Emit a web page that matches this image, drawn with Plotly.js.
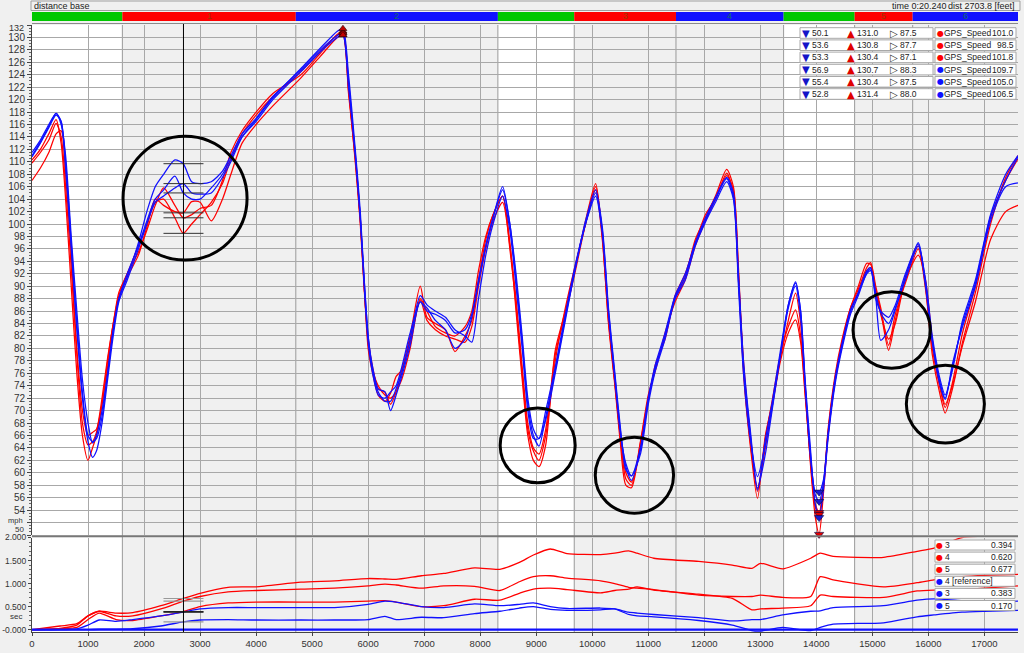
<!DOCTYPE html>
<html><head><meta charset="utf-8">
<script src="https://cdn.plot.ly/plotly-3.0.1.min.js"></script>
<style>html,body{margin:0;padding:0;background:#f0f0f0;overflow:hidden}#chart{width:1024px;height:653px}</style>
</head><body><div id="chart"></div>
<script>
// ---------------- DATA ----------------
const channelName = 'GPS_Speed';
const cursorDist = 2703.8;
const cursorTime = '0:20.240';
const xMax = 17600;

const dist = [0,150,300,430,520,600,700,800,900,1000,1080,1150,1250,1350,1450,1550,1700,1900,2050,2200,2350,2550,2700,2850,3000,3200,3400,3550,3750,4000,4300,4800,5150,5450,5550,5650,5770,5860,5930,6000,6080,6180,6300,6400,6500,6600,6750,6930,7050,7200,7380,7550,7730,7850,7970,8100,8230,8400,8530,8640,8750,8850,8950,9050,9170,9340,9520,9700,9880,10060,10180,10290,10410,10500,10600,10700,10860,11000,11130,11300,11480,11660,11840,12020,12200,12400,12520,12610,12700,12820,12950,13090,13210,13360,13500,13630,13720,13800,13890,13980,14050,14130,14210,14340,14460,14610,14750,14900,14970,15060,15150,15290,15410,15590,15820,15950,16070,16210,16300,16430,16610,16840,17110,17380,17600];

const speedRed3 = [110.3,112,114.5,116.8,113,104,90,76,66,62, 64,66,71,78,84,88.5,92,95.5,99,103, 105.8,103,101,101.5,102.5,103,107,111.5,115,118, 121,124,127.5,130.5,131,122,110,100.5,90,81, 76.5,74,72.5,72,73,76.5,82,90,85,84, 83,79.5,82,84.5,91,97.5,101.5,104.5,97,86, 75,66,62,61,64.5,79.7,86,93,100.5,106.5, 98,84,73.5,65,58,57.6,64.8,72,77,82, 88,91.5,97.5,101,104.5,108.8,106,93,76,64.5, 55.9,66,71,78.5,84.5,88.9,84,74,62,53, 50.1,57,66.5,75.5,81,86.5,90,93.7,93.5,89.5, 86,79.7,84.5,91.5,96.5,90,79,72.5,69.6,73.5, 81,89,100,107.5,111];
const speedRed4 = [109.8,111.5,113.5,116.2,114,106,93,79,68,64.5, 65,66.5,72,78.5,84,89,92,96.5,100,103.5, 104,101,98.5,100,101.5,103.5,106.5,110.5,114.5,117.5, 120.5,124.5,127.8,130.4,130.8,121,110.5,100,89.5,81.5, 77,73.5,73,71,73,75,80,88,86,83.5, 82.5,82,83.5,86,92.5,98,101.5,104.5,96,87, 76,67,63.5,62,66,78,86.5,93.5,100,106, 98.5,85,74,66,60,58.5,64,71.5,77.5,81.5, 88.5,92,97,101.5,104,108.2,105,91,78,66, 57,65.5,71.5,79,83.5,86.2,82,73,62.5,55, 53.6,58,67,76,81.5,86.5,89.5,93,93.8,90, 86.5,80.5,85.5,90.5,96,89.5,80,73.5,70.5,74.5, 82.5,90,101,107,110.5];
const speedRed5 = [107,109,111.5,114.5,115,108,95,80,70,66, 66.5,67,71,77,83.5,88,91.5,95,99.5,104, 103,102,101.8,103.6,103.5,100.5,104,108,113,116, 119,123.5,127,130,130.4,121.5,111,101,90,80, 76,72.5,71.5,72.8,75.5,76.5,81,87.8,84.5,83, 82,81.5,81,83.5,90,96,100.5,103.5,96.5,88, 77,68,64,63,67,79,85.5,92.5,100,105.5, 97.5,84.5,74,66,59,58,65,72.5,76.5,82.5, 87.5,91,96.5,100.5,104,107.8,105.5,92,77,65, 57.5,64,70.5,78,82.5,84.6,81,72.5,63,54.5, 53.3,58,66,75,80.5,86,89,92.5,93,89, 85.5,81.5,84,91,95,91,81.5,74,71,74, 80.5,87.5,97.5,102,103];
const speedBlue4 = [111,113.2,115.7,117.8,116.5,110,97,84,73,66, 65,65.5,69,76,83,88,91.5,97,102,106, 108,110.3,109.7,106.8,106.5,106.8,108.5,111,114.5,117, 120.5,124.8,128,130.3,130.7,123,111,101,90,81, 76,72.5,72,73,74,77,82.5,87.5,86,85.5, 84.5,82.5,83,85.5,91,96.5,101,105.5,100,91, 81,71,66,64.3,69,76.5,85,93,100,105, 99,86,75,67,61,58.8,63.7,71.7,77,82, 88.3,91.5,96.9,100.6,104,107.3,104.4,91,77,66.4, 57.2,65.3,71.2,79.7,87,90.7,86,74.4,63.7,57, 56.9,59,66.4,75.4,80.8,86.2,88.9,92,92.5,88.3, 81.3,83,86.2,91.5,97,90.5,81.3,74.4,72,77, 84,90.5,101.2,107,110.8];
const speedBlue3 = [111.5,113.5,116,117.8,116,111,98,86,75,68, 64.8,66,70,76,83,88,92,96.5,100.5,104, 105.5,107.7,105,104,104,105.8,108,110.5,114,116.5, 120,124.5,127.7,130,130.4,122,111.5,101,91,82, 76.5,73,71.5,71.5,73.5,76,81.5,88.5,87,86, 85,83,82,81,88,95,100,104.5,99,90, 80,70,65.5,65.5,70,77,85.5,93.5,100,104.5, 98.5,85.5,74.5,66.5,61.5,59.5,63,71,76.5,81.5, 88,91,96.5,100.3,103.5,106.8,104,90,76,65.5, 59.4,64.5,70.5,79,86.5,90,85,74,63,56.5, 55.4,58.5,66,75,80.5,86,89,92.5,93,89, 85.7,84,86.5,91,96.5,91,82,75,72.5,76.5, 84.5,91,101.5,108,111];
const speedBlue5 = [110.8,113,115.5,117.5,116.5,109,96,83,72,65, 62.5,63.5,68,75,82,87.5,91,96,100,103.5, 104.5,105.8,106.5,105,104.8,105,107.5,110,114,116.8, 120.3,125,128.3,131,131.4,124,112,102,91,82, 77,73.5,73,70,72.5,75.5,80.5,87.5,86.5,84.5, 83,80,81.5,85,90.5,96.5,101,106,100,92, 82,72,67,65.5,68.5,76,84.5,93,100.5,105.5, 99.5,86.5,75.5,67.5,60.5,59.5,64,72,77.5,82.5, 88.5,92,97,101,104.3,107.5,105,92,78,67, 57.5,63,70,79,87,90.5,86,75,64.5,55, 52.8,57.5,65.5,74.5,80,85.5,88.5,92.2,92.8,88, 86,85,87,92,96.8,90,81,74,71.8,77.5, 83.5,90,100.5,106,106.6];

// time delta (sec) vs reference lap 4
const deltaDist = [0,500,800,1000,1200,1500,1800,2300,2700,3000,3500,4000,4800,5400,6000,6300,6500,6950,7350,7900,8350,8700,8950,9250,9550,10150,10400,10650,10800,11100,11900,12500,12850,13000,13400,13900,14070,14300,15200,15800,16100,16600,17000,17600];
const deltaRed3 = [0,0.02,0.05,0.22,0.36,0.22,0.20,0.30,0.394,0.50, 0.58,0.60,0.60,0.60,0.62,0.63,0.60,0.50,0.52,0.66, 0.64,0.79,0.88,0.90,0.87,0.80,0.85,0.88,0.93,0.86, 0.77,0.68,0.43,0.45,0.47,0.52,0.75,0.72,0.70,0.84, 0.86,0.87,0.90,0.95];
const deltaRed4 = [0,0.03,0.10,0.30,0.40,0.30,0.30,0.45,0.62,0.72, 0.82,0.85,0.88,0.90,0.95,0.99,0.97,0.90,0.95,0.94, 0.85,1.04,1.15,1.17,1.12,1.06,1.00,0.92,0.90,0.87, 0.75,0.72,0.72,0.75,0.70,0.72,1.15,1.08,0.93,1.02, 1.08,1.15,1.18,1.20];
const deltaRed5 = [0,0.08,0.13,0.30,0.40,0.36,0.37,0.52,0.677,0.79, 0.92,0.93,1.03,1.06,1.11,1.10,1.09,1.17,1.22,1.34, 1.31,1.46,1.62,1.75,1.65,1.63,1.66,1.71,1.66,1.55, 1.48,1.40,1.33,1.44,1.32,1.55,1.66,1.59,1.57,1.70, 1.77,2.0,2.03,2.05];
const deltaBlue4 = [0,0,0,0,0,0,0,0,0,0, 0,0,0,0,0,0,0,0,0,0, 0,0,0,0,0,0,0,0,0,0, 0,0,0,0,0,0,0,0,0,0, 0,0,0,0];
const deltaBlue3 = [0,0,0.02,0.10,0.21,0.18,0.22,0.30,0.383,0.45, 0.48,0.48,0.48,0.48,0.55,0.62,0.60,0.50,0.48,0.56, 0.52,0.55,0.58,0.50,0.46,0.47,0.45,0.38,0.36,0.33, 0.26,0.19,0.22,0.22,0.32,0.40,0.41,0.48,0.52,0.64, 0.67,0.63,0.60,0.62];
const deltaBlue5 = [0,0,0,0,0.01,0.01,0.02,0.08,0.17,0.21, 0.22,0.21,0.21,0.21,0.22,0.29,0.22,0.27,0.26,0.35, 0.40,0.47,0.50,0.44,0.42,0.43,0.45,0.33,0.30,0.28, 0.20,0.10,-0.02,-0.03,0.05,-0.02,0.05,0.12,0.15,0.28, 0.32,0.38,0.40,0.42];

// legend tables
const lapNames   = ['3','4','5','4','3','5'];
const lapIsRef   = [false,false,false,true,false,false];
const legendMin  = ['50.1','53.6','53.3','56.9','55.4','52.8'];
const legendMax  = ['131.0','130.8','130.4','130.7','130.4','131.4'];
const legendAvg  = ['87.5','87.7','87.1','88.3','87.5','88.0'];
const cursorSpeed = [101.0,98.5,101.8,109.7,105.0,106.5];
const cursorDelta = [0.394,0.620,0.677,0,0.383,0.170];

// sectors
const segBounds = [0,1613,4709,8316,9679,11495,13416,14684,15720,17600];
const segKinds  = ['g','r','b','g','r','b','g','r','b'];
const segNames  = ['','1','2','','3','4','','5','6'];

// ticks
const xTicks = [0,1000,2000,3000,4000,5000,6000,7000,8000,9000,10000,11000,12000,13000,14000,15000,16000,17000];
const yTicks = [50,52,54,56,58,60,62,64,66,68,70,72,74,76,78,80,82,84,86,88,90,92,94,96,98,100,102,104,106,108,110,112,114,116,118,120,122,124,126,128,130,132];
const yTickText = ['','','54','56','58','60','62','64','66','68','70','72','74','76','78','80','82','84','86','88','90','92','94','96','98','100','102','104','106','108','110','112','114','116','118','120','122','124','126','128','130',''];
const y2Ticks = [0,0.5,1,1.5,2];
const y2TickText = ['-0.000','0.500','1.000','1.500','2.000'];

// ---------------- LAYOUT HELPERS ----------------
const L=32, R=1018, T=25, B=632;
const px = x => (x-L)/(R-L);
const py = y => (B-y)/(B-T);
const dx = v => v/xMax;
const RED='#ff0000', BLUE='#1010ff';
const lapColors = [RED,RED,RED,BLUE,BLUE,BLUE];
const speeds = [speedRed3,speedRed4,speedRed5,speedBlue4,speedBlue3,speedBlue5];
const deltas = [deltaRed3,deltaRed4,deltaRed5,deltaBlue4,deltaBlue3,deltaBlue5];
const FONT = 'Liberation Sans, Arial, sans-serif';
const SYM = 'DejaVu Sans, sans-serif';

const traces = [];
for (let i=0;i<6;i++){
  traces.push({x:dist, y:speeds[i], xaxis:'x', yaxis:'y', mode:'lines', type:'scatter',
    line:{color:lapColors[i], width:1.25, shape:'spline', smoothing:0.7}, hoverinfo:'skip'});
}
for (let i=0;i<6;i++){
  const s = speeds[i];
  let iMin=0,iMax=0;
  s.forEach((v,k)=>{ if(v<s[iMin]) iMin=k; if(v>s[iMax]) iMax=k; });
  traces.push({x:[dist[iMin]], y:[s[iMin]], xaxis:'x', yaxis:'y', mode:'markers', type:'scatter',
    marker:{symbol:'triangle-down', size:8, color: i<3 ? '#e00000' : '#1a1ad0', line:{color:'#000040', width:0.6}}, cliponaxis:false, hoverinfo:'skip'});
  traces.push({x:[dist[iMax]], y:[s[iMax]], xaxis:'x', yaxis:'y', mode:'markers', type:'scatter',
    marker:{symbol:'triangle-up', size:7, color:'#c00000', line:{color:'#200000', width:0.6}}, cliponaxis:false, hoverinfo:'skip'});
}
for (let i=0;i<6;i++){
  traces.push({x:[cursorDist-357, cursorDist+357], y:[cursorSpeed[i],cursorSpeed[i]], xaxis:'x', yaxis:'y',
    mode:'lines', type:'scatter', line:{color:'#333', width:1}, hoverinfo:'skip'});
}
for (let i=0;i<6;i++){
  traces.push({x:deltaDist, y:deltas[i], xaxis:'x2', yaxis:'y2', mode:'lines', type:'scatter',
    line:{color:lapColors[i], width: lapIsRef[i] ? 2.2 : 1.3, shape:'spline', smoothing:0.6}, hoverinfo:'skip'});
}
for (let i=0;i<6;i++){
  if (lapIsRef[i]) continue;
  traces.push({x:[cursorDist-357, cursorDist+357], y:[cursorDelta[i],cursorDelta[i]], xaxis:'x2', yaxis:'y2',
    mode:'lines', type:'scatter', line:{color:(i===0||i===4)?'#222':'#999', width:1.2}, hoverinfo:'skip'});
}

const shapes = [];
const annotations = [];
const segColor = {g:'#00c800', r:'#ff0000', b:'#1010ff'};
const segText  = {r:'#9a3a00', b:'#106a6a'};
const SMALL = 8.5;

shapes.push({type:'rect', xref:'paper', yref:'paper', x0:px(31), x1:px(1020), y0:py(10.5), y1:py(1), fillcolor:'#f0f0f0', line:{color:'#a0a0a0', width:1}});
annotations.push({text:'distance base', xref:'paper', yref:'paper', x:px(32), y:py(6), xanchor:'left', yanchor:'middle', showarrow:false, font:{family:FONT, size:9, color:'#222'}});
annotations.push({text:'time '+cursorTime, xref:'paper', yref:'paper', x:px(949), y:py(6), xanchor:'right', yanchor:'middle', showarrow:false, font:{family:FONT, size:9, color:'#222'}});
annotations.push({text:'dist '+cursorDist.toFixed(1)+' [feet]', xref:'paper', yref:'paper', x:px(1017), y:py(6), xanchor:'right', yanchor:'middle', showarrow:false, font:{family:FONT, size:9, color:'#222'}});

for (let i=0;i<segKinds.length;i++){
  const k = segKinds[i];
  if (k!=='g'){
    shapes.push({type:'rect', xref:'x', yref:'y domain', x0:segBounds[i], x1:segBounds[i+1], y0:0, y1:1, fillcolor:'#f0f0f0', line:{width:0}, layer:'below'});
    shapes.push({type:'rect', xref:'x2', yref:'y2 domain', x0:segBounds[i], x1:segBounds[i+1], y0:0, y1:1, fillcolor:'#f0f0f0', line:{width:0}, layer:'below'});
  }
  shapes.push({type:'rect', xref:'paper', yref:'paper', x0:dx(segBounds[i]), x1:dx(segBounds[i+1]), y0:py(21), y1:py(12), fillcolor:segColor[k], line:{width:0}});
  if (segNames[i]) annotations.push({text:segNames[i], xref:'paper', yref:'paper', x:dx((segBounds[i]+segBounds[i+1])/2), y:py(16.5), xanchor:'center', yanchor:'middle', showarrow:false, font:{family:FONT, size:9, color:segText[k]}});
  if (i>0){
    shapes.push({type:'line', xref:'paper', yref:'paper', x0:dx(segBounds[i]), x1:dx(segBounds[i]), y0:0, y1:1, line:{color:'#9a9a9a', width:1}, layer:'below'});
  }
}
shapes.push({type:'line', xref:'paper', yref:'paper', x0:0, x1:1, y0:py(23.5), y1:py(23.5), line:{color:'#8a8a8a', width:1}});
shapes.push({type:'line', xref:'paper', yref:'paper', x0:0, x1:1, y0:py(536.2), y1:py(536.2), line:{color:'#777', width:2}});
shapes.push({type:'line', xref:'paper', yref:'paper', x0:dx(cursorDist), x1:dx(cursorDist), y0:0, y1:py(24), line:{color:'#000', width:1}});

const circ = (x0,x1,y0,y1)=>shapes.push({type:'circle', xref:'x', yref:'y', x0, x1, y0, y1, line:{color:'#000', width:3}});
circ(1625, 3839, 94.2, 114.1);
circ(8357, 9696, 58.4, 70.4);
circ(10054, 11452, 53.5, 65.7);
circ(14655, 16036, 76.8, 89.1);
circ(15607, 17000, 64.8, 77.3);

for (let r=0;r<6;r++){
  const c = 33 + r*12.2;
  shapes.push({type:'rect', xref:'paper', yref:'paper', x0:px(800), x1:px(933), y0:py(c+5.3), y1:py(c-5.3), fillcolor:'#ffffff', line:{color:'#a8a8a8', width:1}, layer:'above'});
  shapes.push({type:'rect', xref:'paper', yref:'paper', x0:px(935), x1:px(1016), y0:py(c+5.3), y1:py(c-5.3), fillcolor:'#ffffff', line:{color:'#a8a8a8', width:1}, layer:'above'});
  const A = (text,x,anchor,font)=>annotations.push({text, xref:'paper', yref:'paper', x:px(x), y:py(c), xanchor:anchor, yanchor:'middle', showarrow:false, font});
  A('▼', 806, 'center', {family:SYM, size:10, color:'#1414c8'});
  A(legendMin[r], 810, 'left', {family:FONT, size:SMALL, color:'#222'});
  A('▲', 851, 'center', {family:SYM, size:10, color:'#e00000'});
  A(legendMax[r], 855, 'left', {family:FONT, size:SMALL, color:'#222'});
  A('▷', 894, 'center', {family:SYM, size:10, color:'#333'});
  A(legendAvg[r], 898, 'left', {family:FONT, size:SMALL, color:'#222'});
  A('●', 940, 'center', {family:SYM, size:8, color:lapColors[r]});
  A(channelName, 942, 'left', {family:FONT, size:SMALL, color:'#222'});
  A(cursorSpeed[r].toFixed(1), 1016, 'right', {family:FONT, size:SMALL, color:'#222'});
}
for (let r=0;r<6;r++){
  const c = 545 + r*12.1;
  shapes.push({type:'rect', xref:'paper', yref:'paper', x0:px(935), x1:px(1015), y0:py(c+5), y1:py(c-5), fillcolor:'#ffffff', line:{color:'#a8a8a8', width:1}, layer:'above'});
  const A = (text,x,anchor,font)=>annotations.push({text, xref:'paper', yref:'paper', x:px(x), y:py(c), xanchor:anchor, yanchor:'middle', showarrow:false, font});
  A('●', 939, 'center', {family:SYM, size:8, color:lapColors[r]});
  A(lapNames[r] + (lapIsRef[r] ? ' [reference]' : ''), 943, 'left', {family:FONT, size:SMALL, color:'#222'});
  if (!lapIsRef[r]) A(cursorDelta[r].toFixed(3), 1015, 'right', {family:FONT, size:SMALL, color:'#222'});
}
const side = (text,x,y,size)=>annotations.push({text, xref:'paper', yref:'paper', x:px(x), y:py(y), xanchor:'right', yanchor:'middle', showarrow:false, font:{family:FONT, size, color:'#333'}});
side('132', 26, 28, 9);
side('mph', 25, 520.5, 7.5);
side('50', 25.5, 529.5, 8);
side('sec', 24, 616, 8);

const tickFont = {family:FONT, size:10, color:'#333'};
const layout = {
  width:1024, height:653,
  margin:{l:L, r:1024-R, t:T, b:653-B, pad:0},
  paper_bgcolor:'#f0f0f0', plot_bgcolor:'#ffffff',
  showlegend:false,
  font:{family:FONT, size:10, color:'#222'},
  xaxis:{domain:[0,1], anchor:'y', range:[0,xMax], tickvals:xTicks, showticklabels:false, ticks:'',
    showgrid:true, gridcolor:'#a8a8a8', gridwidth:1, zeroline:false, showline:false, fixedrange:true},
  yaxis:{domain:[py(535),1], anchor:'x', range:[50,132], tickvals:yTicks, ticktext:yTickText,
    ticks:'outside', ticklen:4, tickcolor:'#444', showline:true, linecolor:'#444', linewidth:1,
    showgrid:true, gridcolor:'#a8a8a8', gridwidth:1, zeroline:false, tickfont:tickFont,
    minor:{ticks:'outside', ticklen:2, dtick:0.5, tickcolor:'#666', showgrid:false}},
  xaxis2:{domain:[0,1], anchor:'y2', matches:'x', range:[0,xMax], tickvals:xTicks, ticktext:xTicks.map(String),
    ticks:'outside', ticklen:3, tickcolor:'#444', showgrid:true, gridcolor:'#a8a8a8', zeroline:false,
    showline:true, linecolor:'#444', tickfont:{family:FONT, size:9.5, color:'#333'}},
  yaxis2:{domain:[0,py(537.5)], anchor:'x2', range:[-0.05,2.0], tickvals:y2Ticks, ticktext:y2TickText,
    ticks:'outside', ticklen:3, tickcolor:'#444', showline:true, linecolor:'#444', showgrid:false, zeroline:false,
    tickfont:{family:FONT, size:8.5, color:'#333'},
    minor:{ticks:'outside', ticklen:2, dtick:0.1, tickcolor:'#666', showgrid:false}},
  shapes, annotations
};
Plotly.newPlot('chart', traces, layout, {staticPlot:true, displayModeBar:false});
</script></body></html>
